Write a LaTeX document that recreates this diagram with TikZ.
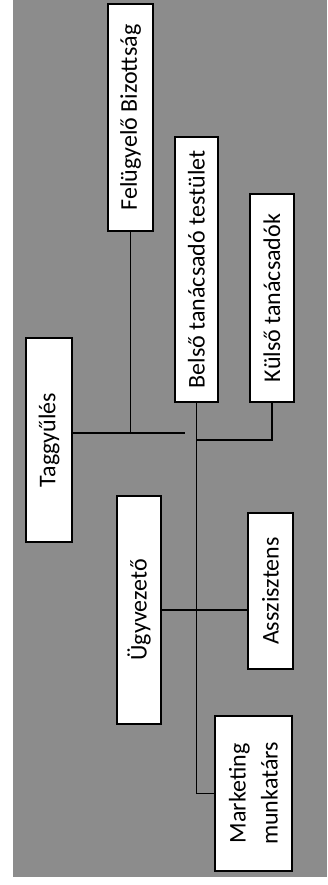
\documentclass[tikz,border=0pt]{standalone}
\usepackage{fontspec}
\setmainfont{Carlito}
\usetikzlibrary{calc}
\definecolor{scangray}{gray}{0.55}
\begin{document}
\begin{tikzpicture}[x=1pt,y=-1pt,
  unitbox/.style={draw,fill=white,line width=1.3pt,rotate=90,inner sep=0pt,
    align=center,font=\fontsize{24}{32}\selectfont},
  link/.style={line width=1.1pt}]%
% page and background
\useasboundingbox (0,0) rectangle (327,885);
\fill[scangray] (13,0) rectangle (327,877);
% units
\node[unitbox,minimum width=227,minimum height=45] (fb) at (130.5,117.5) {Felügyelő Bizottság};
\node[unitbox,minimum width=265,minimum height=43] (bt) at (196.5,269.5) {Belső tanácsadó testület};
\node[unitbox,minimum width=208,minimum height=44] (kt) at (272,298) {Külső tanácsadók};
\node[unitbox,minimum width=204,minimum height=46] (tg) at (49,440) {Taggyűlés};
\node[unitbox,minimum width=228,minimum height=44] (uv) at (139,610) {Ügyvezető};
\node[unitbox,minimum width=156,minimum height=45] (as) at (270.5,591) {Asszisztens};
\node[unitbox,minimum width=155,minimum height=77] (mk) at (253.5,793.5) {Marketing\\munkatárs};
% links
\coordinate (tgj) at (132,433);
\coordinate (tge) at (185,433);
\draw[link] (fb.west) -- (fb.west |- tgj);
\draw[link] (tg.south |- tgj) -- (tge);
\draw[link] (bt.west) |- (mk.north);
\draw[link] (kt.west) |- (bt.west |- tg.south);
\draw[link] (uv.south) -- (uv.south -| as.north);
\end{tikzpicture}
\end{document}
